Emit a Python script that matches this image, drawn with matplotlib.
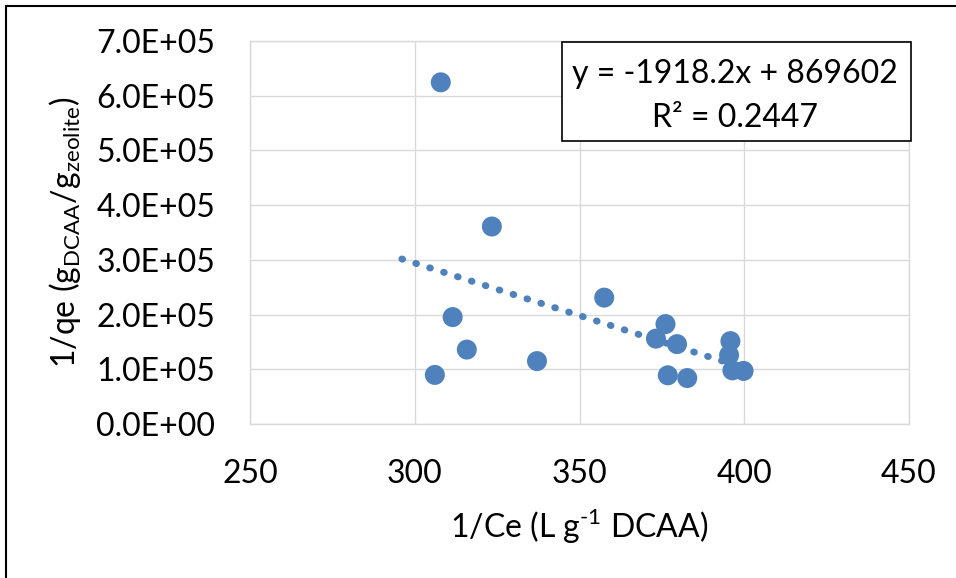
import numpy as np
import matplotlib
matplotlib.use("Agg")
import matplotlib.pyplot as plt
import matplotlib.ticker as tkr
import matplotlib.patches as patches

#~~~~~~~~~~~~~~~~~~~~~~~~~~~~~~~~~~~~~~~~~~~~~~~~~~

# DATA

inv_ce = [307.9, 323.4, 311.5, 315.8, 306.1, 337.1, 357.5, 376.1, 373.2,
          379.6, 376.8, 382.7, 395.8, 395.4, 396.4, 399.8]
inv_qe = [6.245e5, 3.61e5, 1.954e5, 1.36e5, 0.897e5, 1.15e5, 2.31e5, 1.826e5,
          1.56e5, 1.46e5, 0.89e5, 0.84e5, 1.515e5, 1.26e5, 0.98e5, 0.97e5]

slope = -1918.2
intercept = 869602
r_squared = 0.2447
backward = 10

x_ticks = [250, 300, 350, 400, 450]
y_ticks = [0, 1e5, 2e5, 3e5, 4e5, 5e5, 6e5, 7e5]

#~~~~~~~~~~~~~~~~~~~~~~~~~~~~~~~~~~~~~~~~~~~~~~~~~~

# STYLE

W, H = 956, 578
BLUE = "#4F81BD"
GRID = "#D9D9D9"
FONT = "Lato"
FS = 23

plt.rcParams["font.family"] = [FONT, "DejaVu Sans"]
plt.rcParams["mathtext.fontset"] = "custom"
plt.rcParams["mathtext.rm"] = FONT

inv_ce = np.array(inv_ce)
inv_qe = np.array(inv_qe)

#~~~~~~~~~~~~~~~~~~~~~~~~~~~~~~~~~~~~~~~~~~~~~~~~~~

# FIGURE AND AXIS PREPARATION

figure = plt.figure(figsize = (W / 100, H / 100), dpi = 100)
axis = figure.add_axes([250 / W, 1 - 424 / H, 659 / W, 383 / H])

axis.set_xlim(x_ticks[0], x_ticks[-1])
axis.set_ylim(y_ticks[0], y_ticks[-1])
axis.xaxis.set_major_locator(tkr.FixedLocator(x_ticks))
axis.yaxis.set_major_locator(tkr.FixedLocator(y_ticks))
axis.yaxis.set_major_formatter(tkr.FuncFormatter(lambda v, p: f"{v:.1E}"))

axis.tick_params(length = 0, labelsize = FS)
axis.tick_params(axis = "x", pad = 25)
axis.tick_params(axis = "y", pad = 25)

for spine in axis.spines.values():
    spine.set_color(GRID)
    spine.set_linewidth(1)

axis.grid(color = GRID, linewidth = 1)
axis.set_axisbelow(True)

#~~~~~~~~~~~~~~~~~~~~~~~~~~~~~~~~~~~~~~~~~~~~~~~~~~

# PLOT

trend_x = np.array([inv_ce.min() - backward, inv_ce.max()])
axis.plot(trend_x, slope * trend_x + intercept, color = BLUE, linewidth = 5,
          linestyle = (0, (0.1, 2)), dash_capstyle = "round", zorder = 2)

axis.scatter(inv_ce, inv_qe, s = 207, color = BLUE, edgecolors = "none",
             zorder = 3)

#~~~~~~~~~~~~~~~~~~~~~~~~~~~~~~~~~~~~~~~~~~~~~~~~~~

# LABELS

figure.text(65 / W, 1 - 232 / H,
            r"1/qe (g$_{\mathregular{DCAA}}$/g$_{\mathregular{zeolite}}$)",
            rotation = 90, ha = "center", va = "center", fontsize = FS)

figure.text(579 / W, 1 - 538 / H, r"1/Ce (L g$^{\text{-}\mathregular{1}}$ DCAA)",
            ha = "center", va = "baseline", fontsize = FS)

#~~~~~~~~~~~~~~~~~~~~~~~~~~~~~~~~~~~~~~~~~~~~~~~~~~

# EQUATION BOX

figure.patches.append(patches.Rectangle(
    (562 / W, 1 - 141 / H), 349 / W, 99 / H, transform = figure.transFigure,
    facecolor = "white", edgecolor = "black", linewidth = 1.2, zorder = 5))

figure.text(735 / W, 1 - 83 / H, f"y = {slope}x + {intercept}",
            ha = "center", va = "baseline", fontsize = FS, zorder = 6)
figure.text(735 / W, 1 - 127 / H, f"R² = {r_squared}",
            ha = "center", va = "baseline", fontsize = FS, zorder = 6)

#~~~~~~~~~~~~~~~~~~~~~~~~~~~~~~~~~~~~~~~~~~~~~~~~~~

# CHART BORDER

figure.patches.append(patches.Rectangle(
    (6 / W, -0.1), 1.2, 1.1 - 6 / H, transform = figure.transFigure,
    facecolor = "none", edgecolor = "black", linewidth = 1.5, zorder = 10))

#~~~~~~~~~~~~~~~~~~~~~~~~~~~~~~~~~~~~~~~~~~~~~~~~~~

# SAVING

figure.savefig("out.png", dpi = 100)
